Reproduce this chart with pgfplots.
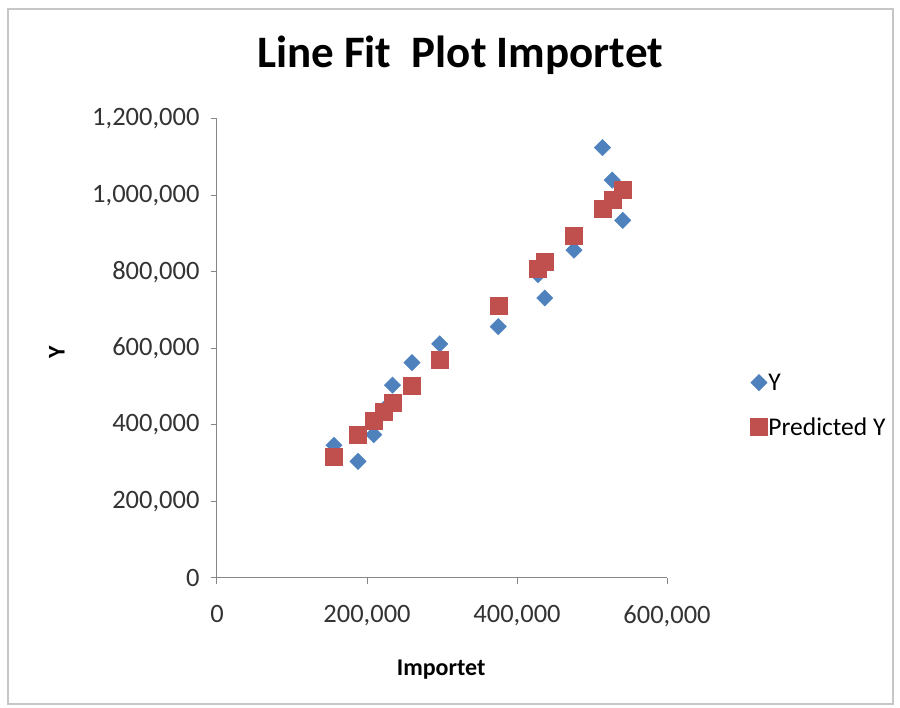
\documentclass[border=0pt]{standalone}
\usepackage{pgfplots}
\pgfplotsset{compat=1.18}
\usepackage{fontspec}
\setmainfont{Carlito}
\definecolor{serA}{HTML}{4F81BD}
\definecolor{serB}{HTML}{C0504D}
\definecolor{axgray}{HTML}{868686}
\begin{document}
\begin{tikzpicture}[x=1pt,y=1pt]
\path (0,0) rectangle (900,708);
\draw[gray!45,line width=1.2pt] (8,4) rectangle (893,699);
\begin{axis}[
  at={(217pt,130pt)}, anchor=south west,
  scale only axis, width=450pt, height=459pt,
  xmin=0, xmax=600000, ymin=0, ymax=1200000,
  axis x line*=bottom, axis y line*=left,
  axis line style={axgray, line width=1pt},
  xtick={0,200000,400000,600000},
  ytick={0,200000,400000,600000,800000,1000000,1200000},
  tick style={axgray, line width=1pt},
  tick align=outside, major tick length=6pt,
  scaled ticks=false,
  /pgf/number format/.cd, fixed, 1000 sep={,}, assume math mode=true,
  /pgfplots/.cd,
  ticklabel style={font=\fontsize{26.5}{30}\selectfont, text=black!80},
  xticklabel style={yshift=-18pt},
  yticklabel style={xshift=-8pt},
  title={Line Fit\ \ Plot Importet},
  title style={font=\fontsize{45}{50}\selectfont\bfseries, at={(axis description cs:0.54,1.125)}, anchor=center},
  xlabel={Importet},
  ylabel={Y},
  xlabel style={font=\fontsize{24}{28}\selectfont\bfseries, at={(axis description cs:0.498,-0.20)}, anchor=center},
  ylabel style={font=\fontsize{24}{28}\selectfont\bfseries, at={(axis description cs:-0.356,0.492)}, anchor=center, rotate=0},
  legend style={at={(axis description cs:1.185,0.45)}, anchor=north west, draw=none, fill=none,
    font=\fontsize{25.5}{30}\selectfont, row sep=22pt, inner sep=0pt,
    nodes={inner xsep=1pt}},
  legend cell align=left,
]
\addplot[only marks, mark=square*, mark size=5.8pt, mark options={rotate=45, fill=serA, draw=serA}] coordinates {
(156000,347000) (188000,305000) (209000,375000) (222000,440000) (234000,504000)
(260000,563000) (297000,612000) (375000,657000) (428000,793000) (437000,732000)
(476000,857000) (514000,1125000) (527000,1040000) (541000,935000)
};
\addlegendentry{Y}
\addplot[only marks, mark=square*, mark size=8.5pt, mark options={fill=serB, draw=serB}] coordinates {
(156000,316000) (188000,374000) (209000,412000) (222000,436000) (234000,458000)
(260000,504000) (297000,572000) (375000,713000) (428000,809000) (437000,826000)
(476000,896000) (514000,965000) (527000,988000) (541000,1014000)
};
\addlegendentry{Predicted Y}
\end{axis}
\end{tikzpicture}
\end{document}
